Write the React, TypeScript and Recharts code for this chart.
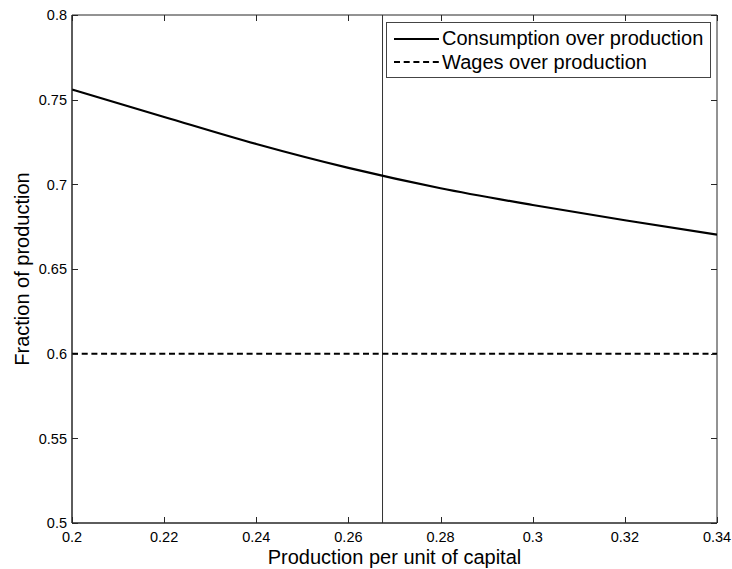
import React from 'react';
import { LineChart, Line, XAxis, YAxis, ReferenceLine, ReferenceArea, Legend } from 'recharts';

// production per unit of capital
const xValues = [0.2, 0.22, 0.24, 0.26, 0.28, 0.3, 0.32, 0.34];
const consumption = [0.756, 0.7398, 0.7238, 0.7097, 0.6977, 0.6878, 0.6788, 0.6703];
const wages = [0.6, 0.6, 0.6, 0.6, 0.6, 0.6, 0.6, 0.6];
const steadyState = 0.2674;

const xTicks = [0.2, 0.22, 0.24, 0.26, 0.28, 0.3, 0.32, 0.34];
const yTicks = [0.5, 0.55, 0.6, 0.65, 0.7, 0.75, 0.8];
const xDomain = [0.2, 0.34];
const yDomain = [0.5, 0.8];

const data = xValues.map((x, i) => ({ x, consumption: consumption[i], wages: wages[i] }));

const FONT = '"Liberation Sans", Arial, sans-serif';
const AXIS = '#262626';

// plot box (layout)
const W = 732;
const H = 569;
const TOP = 15;
const RIGHT_M = 15;
const X_AXIS_H = 46;
const Y_AXIS_W = 72;
const PLOT_TOP = TOP;
const PLOT_BOTTOM = H - X_AXIS_H;
const PLOT_LEFT = Y_AXIS_W;
const PLOT_RIGHT = W - RIGHT_M;
const TICK = 6;

const fmt = (v: number) => String(parseFloat(v.toFixed(2)));

// inward ticks on bottom and top edge + label
const XTick = (props: any) => {
  const { x, payload } = props;
  const px = Math.round(x) + 0.5;
  return (
    <g>
      <path d={`M${px},${PLOT_BOTTOM}V${PLOT_BOTTOM - TICK}`} stroke={AXIS} strokeWidth={1} fill="none" />
      <path d={`M${px},${PLOT_TOP}V${PLOT_TOP + TICK}`} stroke={AXIS} strokeWidth={1} fill="none" />
      <text x={x} y={PLOT_BOTTOM + 19} textAnchor="middle" fill="#000" fontSize={14.5} fontFamily={FONT}>
        {fmt(payload.value)}
      </text>
    </g>
  );
};

// inward ticks on left and right edge + label
const YTick = (props: any) => {
  const { y, payload } = props;
  const py = Math.round(y) + 0.5;
  return (
    <g>
      <path d={`M${PLOT_LEFT},${py}H${PLOT_LEFT + TICK}`} stroke={AXIS} strokeWidth={1} fill="none" />
      <path d={`M${PLOT_RIGHT},${py}H${PLOT_RIGHT - TICK}`} stroke={AXIS} strokeWidth={1} fill="none" />
      <text x={PLOT_LEFT - 5} y={y} dy="0.36em" textAnchor="end" fill="#000" fontSize={14.5} fontFamily={FONT}>
        {fmt(payload.value)}
      </text>
    </g>
  );
};

const renderLegend = (props: any) => {
  const items = props.payload || [];
  return (
    <div
      style={{
        border: '1px solid #444',
        background: '#fff',
        width: 325,
        height: 56,
        boxSizing: 'border-box',
        paddingTop: 4,
        fontFamily: FONT,
        fontSize: 20,
        color: '#000',
        whiteSpace: 'nowrap',
      }}
    >
      {items.map((it: any) => (
        <div key={it.value} style={{ display: 'flex', alignItems: 'center', height: 23.5 }}>
          <svg width={49} height={10} style={{ marginLeft: 6, flex: 'none' }}>
            <line
              x1={1}
              y1={5}
              x2={46}
              y2={5}
              stroke="#000"
              strokeWidth={2}
              strokeDasharray={it.payload && it.payload.strokeDasharray}
            />
          </svg>
          <span style={{ lineHeight: '23px' }}>{it.value}</span>
        </div>
      ))}
    </div>
  );
};

export default function App() {
  return (
    <div style={{ position: 'absolute', left: 0, top: 0, background: '#fff' }}>
      <LineChart width={W} height={H} data={data} margin={{ top: TOP, right: RIGHT_M, bottom: 0, left: 0 }}>
        <ReferenceArea
          x1={xDomain[0]}
          x2={xDomain[1]}
          y1={yDomain[0]}
          y2={yDomain[1]}
          fill="none"
          fillOpacity={0}
          stroke={AXIS}
          strokeWidth={1}
        />
        <XAxis
          dataKey="x"
          type="number"
          domain={xDomain}
          ticks={xTicks}
          allowDataOverflow
          height={X_AXIS_H}
          tickLine={false}
          stroke={AXIS}
          tick={<XTick />}
          label={{ value: 'Production per unit of capital', position: 'insideBottom', offset: 5, fill: '#000', fontSize: 20, fontFamily: FONT }}
        />
        <YAxis
          type="number"
          domain={yDomain}
          ticks={yTicks}
          width={Y_AXIS_W}
          tickLine={false}
          stroke={AXIS}
          tick={<YTick />}
          label={{
            content: (p: any) => {
              const vb = p.viewBox;
              const cx = vb.x + 22;
              const cy = vb.y + vb.height / 2;
              return (
                <text x={cx} y={cy} transform={`rotate(-90 ${cx} ${cy})`} textAnchor="middle" dominantBaseline="central" fill="#000" fontSize={20} fontFamily={FONT}>
                  Fraction of production
                </text>
              );
            },
          }}
        />
        <ReferenceLine x={steadyState} stroke="#333" strokeWidth={1} />
        <Line
          dataKey="consumption"
          name="Consumption over production"
          stroke="#000"
          strokeWidth={2.2}
          dot={false}
          type="monotone"
          isAnimationActive={false}
        />
        <Line
          dataKey="wages"
          name="Wages over production"
          stroke="#000"
          strokeWidth={2}
          strokeDasharray="6 3.7"
          dot={false}
          type="linear"
          isAnimationActive={false}
        />
        <Legend
          layout="vertical"
          align="center"
          verticalAlign="middle"
          content={renderLegend}
          wrapperStyle={{ position: 'absolute', left: 386, top: 22, width: 325, height: 56 }}
        />
      </LineChart>
    </div>
  );
}
